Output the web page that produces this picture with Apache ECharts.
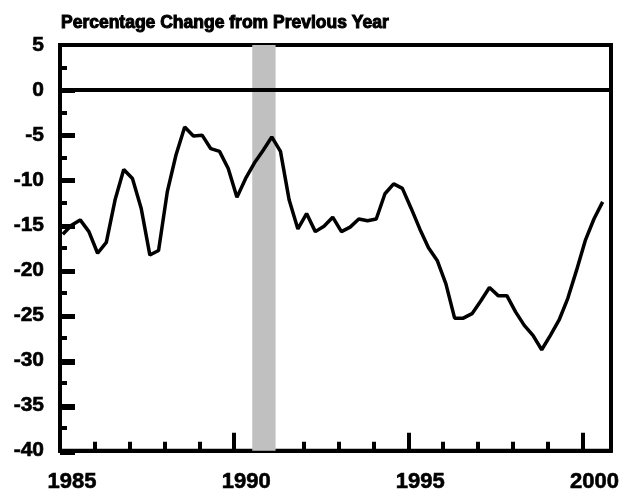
<!DOCTYPE html>
<html>
<head>
<meta charset="utf-8">
<title>Percentage Change from Previous Year</title>
<script src="https://cdn.jsdelivr.net/npm/echarts@6/dist/echarts.min.js"></script>
<style>
  html, body { margin: 0; padding: 0; background: #fff; }
  #chart { width: 624px; height: 493px; }
</style>
</head>
<body>
<div id="chart"></div>
<script>
// quarterly values, 1985 Q1 .. 2000 Q3
var startYear = 1985;
var pctChange = [
  -16.0, -15.0, -14.4, -15.7, -18.1, -16.9, -12.2, -8.8,
  -9.8, -13.1, -18.3, -17.8, -11.3, -7.2, -4.1, -5.1,
  -5.0, -6.5, -6.8, -8.7, -11.9, -9.8, -8.1, -6.7,
  -5.2, -6.8, -12.2, -15.4, -13.7, -15.7, -15.1, -14.1,
  -15.7, -15.2, -14.3, -14.5, -14.3, -11.5, -10.4, -10.9,
  -13.1, -15.4, -17.5, -18.9, -21.5, -25.3, -25.3, -24.8,
  -23.4, -21.9, -22.8, -22.8, -24.6, -26.1, -27.2, -28.8,
  -27.2, -25.5, -23.1, -20.0, -16.7, -14.3, -12.4
];
var yearLabels = [1985, 1990, 1995, 2000];
var recession = [1990.52, 1991.19];   // shaded band

var font = "'Liberation Sans', Arial, sans-serif";

// quarter -> position on the year axis
var points = pctChange.map(function (v, i) {
    return [startYear + i / 4 + 0.08, v];
});

var myChart = echarts.init(document.getElementById('chart'));

var gridBox = { left: 60, right: 13, top: 45, bottom: 40 };

var option = {
    animation: false,
    title: {
        text: 'Percentage Change from Previous Year',
        left: 61,
        top: 14,
        padding: 0,
        textStyle: {
            fontFamily: font, fontWeight: 'bold', fontSize: 17.5, color: '#000',
            textBorderColor: '#000', textBorderWidth: 1
        }
    },
    grid: [{
        left: gridBox.left, right: gridBox.right, top: gridBox.top, bottom: gridBox.bottom,
        show: true,
        borderColor: '#000',
        borderWidth: 4,
        backgroundColor: 'transparent'
    }, {
        // second grid, same box, only for the y-axis major ticks
        left: gridBox.left, right: gridBox.right, top: gridBox.top, bottom: gridBox.bottom,
        show: false
    }],
    xAxis: [{
        // yearly ticks
        type: 'value',
        gridIndex: 0,
        position: 'bottom',
        min: 1985,
        max: 2000.82,
        interval: 1,
        axisLine: { show: true, onZero: false, lineStyle: { color: '#000', width: 4 } },
        axisTick: { show: true, inside: true, length: 9, lineStyle: { color: '#000', width: 4 } },
        axisLabel: { show: false },
        splitLine: { show: false }
    }, {
        // 5-year ticks and labels
        type: 'value',
        gridIndex: 0,
        position: 'bottom',
        min: 1985,
        max: 2000.82,
        interval: 5,
        axisLine: { show: true, onZero: false, lineStyle: { color: '#000', width: 4 } },
        axisTick: { show: true, inside: true, length: 18, lineStyle: { color: '#000', width: 4 } },
        axisLabel: {
            show: true,
            margin: 20,
            padding: [0, 0, 0, 24],
            hideOverlap: false,
            fontFamily: font,
            fontWeight: 'bold',
            fontSize: 22,
            color: '#000',
            textBorderColor: '#000',
            textBorderWidth: 0.6,
            formatter: function (v) {
                var r = Math.round(v);
                if (Math.abs(v - r) < 1e-6 && yearLabels.indexOf(r) >= 0) return String(r);
                return '';
            }
        },
        splitLine: { show: false }
    }, {
        type: 'value',
        gridIndex: 1,
        min: 1985,
        max: 2000.82,
        show: false
    }],
    yAxis: [{
        type: 'value',
        gridIndex: 0,
        position: 'left',
        min: -40,
        max: 5,
        interval: 5,
        axisLine: { show: true, onZero: false, lineStyle: { color: '#000', width: 4 } },
        axisTick: { show: true, inside: true, length: 15, lineStyle: { color: '#000', width: 4 } },
        minorTick: { show: true, splitNumber: 2, length: 7, lineStyle: { color: '#000', width: 4 } },
        axisLabel: {
            margin: 16,
            fontFamily: font,
            fontWeight: 'bold',
            fontSize: 21,
            color: '#000',
            textBorderColor: '#000',
            textBorderWidth: 0.6
        },
        splitLine: { show: false }
    }, {
        type: 'value',
        gridIndex: 1,
        position: 'left',
        min: -40,
        max: 5,
        interval: 5,
        axisLine: { show: false, onZero: false },
        axisTick: { show: true, inside: true, length: 15, lineStyle: { color: '#000', width: 4 } },
        axisLabel: { show: false },
        splitLine: { show: false }
    }],
    series: [{
        name: 'recession',
        type: 'line',
        xAxisIndex: 0,
        yAxisIndex: 0,
        z: -1,
        data: [],
        markArea: {
            silent: true,
            itemStyle: { color: '#c0c0c0' },
            data: [[{ xAxis: recession[0] }, { xAxis: recession[1] }]]
        }
    }, {
        name: 'pct',
        type: 'line',
        xAxisIndex: 0,
        yAxisIndex: 0,
        data: points,
        showSymbol: false,
        symbol: 'none',
        lineStyle: { color: '#000', width: 3.5 },
        markLine: {
            silent: true,
            symbol: ['none', 'none'],
            label: { show: false },
            lineStyle: { color: '#000', width: 4, type: 'solid' },
            data: [{ yAxis: 0 }]
        }
    }]
};

myChart.setOption(option);
</script>
</body>
</html>
